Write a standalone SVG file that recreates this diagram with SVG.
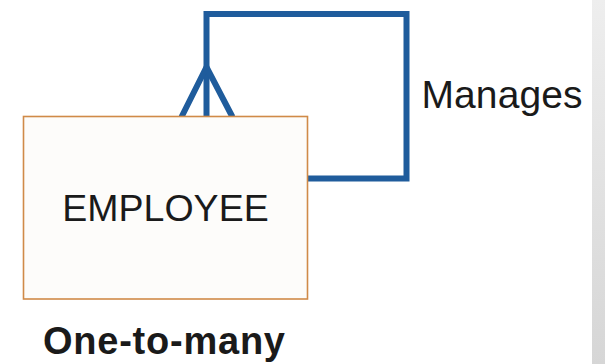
<svg xmlns="http://www.w3.org/2000/svg" width="605" height="364" viewBox="0 0 605 364">
<defs>
<linearGradient id="band" x1="0" y1="0" x2="0" y2="1">
<stop offset="0" stop-color="#eeeeee"/>
<stop offset="1" stop-color="#d6d6d6"/>
</linearGradient>
<style>
.conn{fill:none;stroke:#1f5c9c;stroke-width:6;stroke-linejoin:miter;stroke-linecap:butt}
.ent{fill:#fdfcfa;stroke:#d08a48;stroke-width:1.6}
.t{font-family:"Liberation Sans",Arial,sans-serif;fill:#1a1a1a}
</style>
</defs>
<rect x="0" y="0" width="605" height="364" fill="#ffffff"/>
<rect x="592" y="0" width="13" height="364" fill="url(#band)"/>
<g id="connectors">
<polyline class="conn" points="308,178.5 406.5,178.5 406.5,14 206.5,14 206.5,117"/>
<polyline class="conn" points="181.5,117 206.5,67 232.5,117"/>
</g>
<g id="employee">
<rect class="ent" x="23.5" y="116.5" width="284" height="182.5"/>
<text class="t" x="165.5" y="221" font-size="37.5" text-anchor="middle">EMPLOYEE</text>
</g>
<g id="label-manages">
<text class="t" x="421.5" y="107.5" font-size="39" textLength="161">Manages</text>
</g>
<g id="caption">
<text class="t" x="43" y="354" font-size="38" font-weight="bold" textLength="242">One-to-many</text>
</g>
</svg>
